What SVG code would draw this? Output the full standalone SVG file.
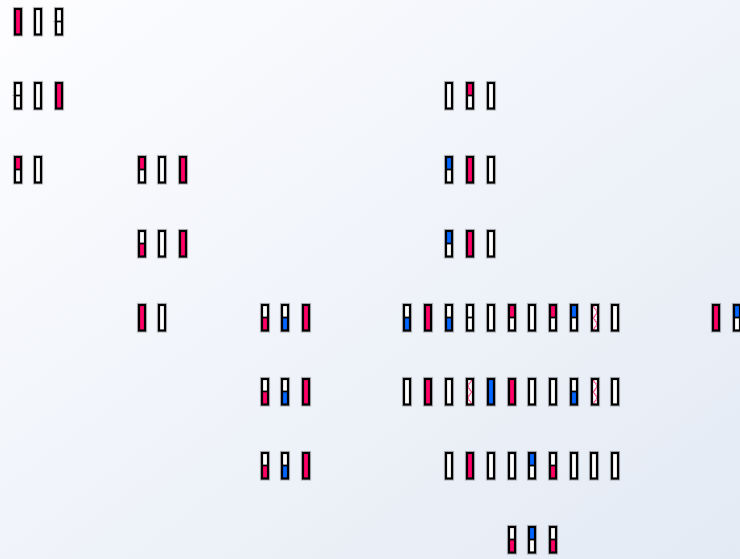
<svg xmlns="http://www.w3.org/2000/svg" xmlns:xlink="http://www.w3.org/1999/xlink" width="740" height="559" viewBox="0 0 740 559">
<style>
.h{fill:none;stroke:#000;stroke-opacity:.25;stroke-width:4.2}
.o{fill:none;stroke:#000;stroke-width:2.2}
.d{stroke:#000;stroke-width:1.8}
.t{stroke:#000;stroke-width:1;stroke-opacity:.3}
.r{fill:#ff0066}
.b{fill:#0066ff}
.w{fill:#fff}
.z{fill:none;stroke:#ff3d84;stroke-width:1.5;stroke-dasharray:1.5 .5}
</style>
<defs>
<linearGradient id="bg" x1="0" y1="0" x2="1" y2="1">
<stop offset="0" stop-color="#fdfdff"/>
<stop offset="1" stop-color="#e3eaf4"/>
</linearGradient>
<g id="cw"><rect class="h" x="1" y="1" width="6" height="25.5"/><rect class="w" x="1" y="1" width="6" height="25.5"/><rect class="o" x="1" y="1" width="6" height="25.5"/></g>
<g id="cr"><rect class="h" x="1" y="1" width="6" height="25.5"/><rect class="r" x="1" y="1" width="6" height="25.5"/><rect class="o" x="1" y="1" width="6" height="25.5"/></g>
<g id="cb"><rect class="h" x="1" y="1" width="6" height="25.5"/><rect class="b" x="1" y="1" width="6" height="25.5"/><rect class="o" x="1" y="1" width="6" height="25.5"/></g>
<g id="rw"><rect class="h" x="1" y="1" width="6" height="25.5"/><rect class="r" x="1" y="1" width="6" height="12.5"/><rect class="w" x="1" y="13.5" width="6" height="13"/><line class="d" x1="1" y1="13.5" x2="7" y2="13.5"/><rect class="o" x="1" y="1" width="6" height="25.5"/></g>
<g id="wr"><rect class="h" x="1" y="1" width="6" height="25.5"/><rect class="w" x="1" y="1" width="6" height="12.5"/><rect class="r" x="1" y="13.5" width="6" height="13"/><line class="d" x1="1" y1="13.5" x2="7" y2="13.5"/><rect class="o" x="1" y="1" width="6" height="25.5"/></g>
<g id="bw"><rect class="h" x="1" y="1" width="6" height="25.5"/><rect class="b" x="1" y="1" width="6" height="12.5"/><rect class="w" x="1" y="13.5" width="6" height="13"/><line class="d" x1="1" y1="13.5" x2="7" y2="13.5"/><rect class="o" x="1" y="1" width="6" height="25.5"/></g>
<g id="wb"><rect class="h" x="1" y="1" width="6" height="25.5"/><rect class="w" x="1" y="1" width="6" height="12.5"/><rect class="b" x="1" y="13.5" width="6" height="13"/><line class="d" x1="1" y1="13.5" x2="7" y2="13.5"/><rect class="o" x="1" y="1" width="6" height="25.5"/></g>
<g id="ww"><rect class="h" x="1" y="1" width="6" height="25.5"/><rect class="w" x="1" y="1" width="6" height="25.5"/><line class="d" x1="1" y1="13.5" x2="7" y2="13.5"/><rect class="o" x="1" y="1" width="6" height="25.5"/></g>
<g id="wwt"><rect class="h" x="1" y="1" width="6" height="25.5"/><rect class="w" x="1" y="1" width="6" height="25.5"/><line class="t" x1="-1.5" y1="13.5" x2="1" y2="13.5"/><line class="d" x1="1" y1="13.5" x2="7" y2="13.5"/><rect class="o" x="1" y="1" width="6" height="25.5"/></g>
<g id="z1"><rect class="h" x="1" y="1" width="6" height="25.5"/><rect class="w" x="1" y="1" width="6" height="25.5"/><polyline class="z" points="2,2 6.5,8 2.5,14 6.5,20 2,26"/><rect class="o" x="1" y="1" width="6" height="25.5"/></g>
<g id="z2"><rect class="h" x="1" y="1" width="6" height="25.5"/><rect class="w" x="1" y="1" width="6" height="25.5"/><polyline class="z" points="6,2 1.5,8 5.5,14 1.5,20 6,26"/><rect class="o" x="1" y="1" width="6" height="25.5"/></g>
</defs>
<rect width="740" height="559" fill="url(#bg)"/>
<g id="row1">
<use href="#cr" x="14" y="8"/><use href="#cw" x="34" y="8"/><use href="#wwt" x="55" y="8"/>
</g>
<g id="row2">
<g id="r2g1"><use href="#wwt" x="14" y="82"/><use href="#cw" x="34" y="82"/><use href="#cr" x="55" y="82"/></g>
<g id="r2g4"><use href="#cw" x="445" y="82"/><use href="#rw" x="466" y="82"/><use href="#cw" x="487" y="82"/></g>
</g>
<g id="row3">
<g id="r3g1"><use href="#rw" x="14" y="156"/><use href="#cw" x="34" y="156"/></g>
<g id="r3g2"><use href="#rw" x="138" y="156"/><use href="#cw" x="158" y="156"/><use href="#cr" x="179" y="156"/></g>
<g id="r3g4"><use href="#bw" x="445" y="156"/><use href="#cr" x="466" y="156"/><use href="#cw" x="487" y="156"/></g>
</g>
<g id="row4">
<g id="r4g2"><use href="#wr" x="138" y="230"/><use href="#cw" x="158" y="230"/><use href="#cr" x="179" y="230"/></g>
<g id="r4g4"><use href="#bw" x="445" y="230"/><use href="#cr" x="466" y="230"/><use href="#cw" x="487" y="230"/></g>
</g>
<g id="row5">
<g id="r5g2"><use href="#cr" x="138" y="304"/><use href="#cw" x="158" y="304"/></g>
<g id="r5g3"><use href="#wr" x="261" y="304"/><use href="#wb" x="281" y="304"/><use href="#cr" x="302" y="304"/></g>
<g id="r5big"><use href="#wb" x="403" y="304"/><use href="#cr" x="424" y="304"/><use href="#wb" x="445" y="304"/><use href="#ww" x="466" y="304"/><use href="#cw" x="487" y="304"/><use href="#rw" x="508" y="304"/><use href="#cw" x="528" y="304"/><use href="#rw" x="549" y="304"/><use href="#bw" x="570" y="304"/><use href="#z1" x="591" y="304"/><use href="#cw" x="611" y="304"/></g>
<g id="r5far"><use href="#cr" x="712" y="304"/><use href="#bw" x="733" y="304"/></g>
</g>
<g id="row6">
<g id="r6g3"><use href="#wr" x="261" y="378"/><use href="#wb" x="281" y="378"/><use href="#cr" x="302" y="378"/></g>
<g id="r6big"><use href="#cw" x="403" y="378"/><use href="#cr" x="424" y="378"/><use href="#cw" x="445" y="378"/><use href="#z2" x="466" y="378"/><use href="#cb" x="487" y="378"/><use href="#cr" x="508" y="378"/><use href="#cw" x="528" y="378"/><use href="#cw" x="549" y="378"/><use href="#wb" x="570" y="378"/><use href="#z1" x="591" y="378"/><use href="#cw" x="611" y="378"/></g>
</g>
<g id="row7">
<g id="r7g3"><use href="#wr" x="261" y="452"/><use href="#wb" x="281" y="452"/><use href="#cr" x="302" y="452"/></g>
<g id="r7big"><use href="#cw" x="445" y="452"/><use href="#cr" x="466" y="452"/><use href="#cw" x="487" y="452"/><use href="#cw" x="508" y="452"/><use href="#bw" x="528" y="452"/><use href="#wr" x="549" y="452"/><use href="#cw" x="570" y="452"/><use href="#cw" x="590" y="452"/><use href="#cw" x="611" y="452"/></g>
</g>
<g id="row8">
<use href="#wr" x="508" y="526"/><use href="#bw" x="528" y="526"/><use href="#wr" x="549" y="526"/>
</g>
</svg>
